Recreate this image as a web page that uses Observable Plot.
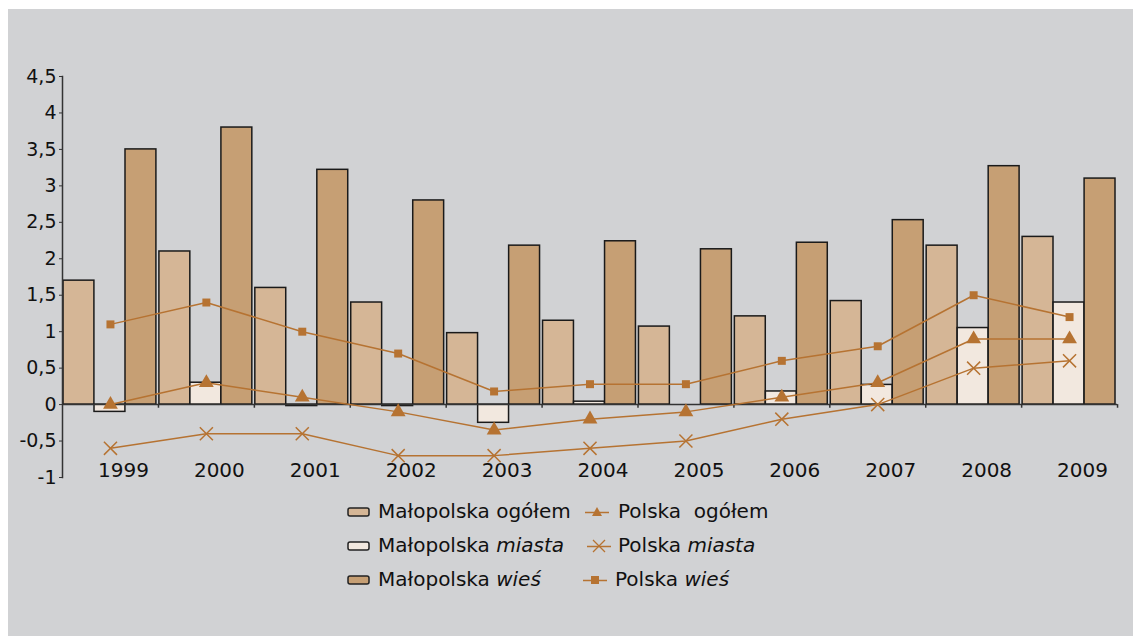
<!DOCTYPE html>
<html><head><meta charset="utf-8">
<script src="https://cdn.jsdelivr.net/npm/d3@7"></script>
<script src="https://cdn.jsdelivr.net/npm/@observablehq/plot@0.6"></script>
<style>
body{margin:0;background:#fff;width:1133px;height:636px;position:relative;overflow:hidden;font-family:"DejaVu Sans",sans-serif;}
#panel{position:absolute;left:8px;top:9px;width:1125px;height:627px;background:#d1d2d4;}
#chart{position:absolute;left:0;top:0;}
.lg{position:absolute;font-size:20px;color:#111;line-height:22px;white-space:pre;}
.sw{position:absolute;}
</style></head>
<body>
<div id="panel"></div>
<div id="chart"></div>
<div id="legend"></div>
<script>
const years = [1999,2000,2001,2002,2003,2004,2005,2006,2007,2008,2009];
const malopolskaOgolem = [1.7,2.1,1.6,1.4,0.98,1.15,1.07,1.21,1.42,2.18,2.3];
const malopolskaMiasta = [-0.1,0.3,-0.02,-0.02,-0.25,0.04,0,0.18,0.27,1.05,1.4];
const malopolskaWies = [3.5,3.8,3.22,2.8,2.18,2.24,2.13,2.22,2.53,3.27,3.1];
const polskaOgolem = [0.0,0.3,0.1,-0.1,-0.35,-0.2,-0.1,0.1,0.3,0.9,0.9];
const polskaMiasta = [-0.6,-0.4,-0.4,-0.7,-0.7,-0.6,-0.5,-0.2,0,0.5,0.6];
const polskaWies = [1.1,1.4,1.0,0.7,0.18,0.28,0.28,0.6,0.8,1.5,1.2];
const yTicks = [-1,-0.5,0,0.5,1,1.5,2,2.5,3,3.5,4,4.5];

const cOgolem = "#d5b696", cMiasta = "#f2e8df", cWies = "#c69f74", cLine = "#b67332";
const rows = (vals) => years.map((y,i)=>({year:y, v:vals[i]}));

const barStyle = {x:"year", y:"v", stroke:"#1a1a1a", strokeWidth:1.5};
const chart = Plot.plot({
  width:1133, height:500,
  marginLeft:62, marginRight:16, marginTop:76, marginBottom:23,
  style:{background:"transparent", fontFamily:"DejaVu Sans", fontSize:"19px", color:"#111"},
  x:{type:"band", domain:years, padding:0, round:false, label:null},
  y:{type:"linear", domain:[-1,4.5], label:null},
  marks:[
    Plot.barY(rows(malopolskaOgolem), {...barStyle, fill:cOgolem, insetLeft:1, insetRight:64}),
    Plot.barY(rows(malopolskaMiasta), {...barStyle, fill:cMiasta, insetLeft:32, insetRight:33}),
    Plot.barY(rows(malopolskaWies), {...barStyle, fill:cWies, insetLeft:63, insetRight:2}),
    Plot.ruleY([0], {stroke:"#333", strokeWidth:1.5}),
    Plot.ruleX(years, {x:d=>d, dx:48, y1:0, y2:-0.05, stroke:"#333", strokeWidth:1.5}),
    Plot.frame({anchor:"left", stroke:"#333", strokeWidth:1.5}),
    Plot.axisY({ticks:yTicks, tickSize:3, tickPadding:3, tickFormat:d=>String(d).replace(".",","), fontSize:19, stroke:"#333"}),
    Plot.axisX({tickSize:0, tickPadding:0, dy:-15, dx:13, fontSize:20, tickFormat:d=>String(d)}),
    Plot.lineY(rows(polskaWies), {x:"year", y:"v", stroke:cLine, strokeWidth:1.5}),
    Plot.lineY(rows(polskaOgolem), {x:"year", y:"v", stroke:cLine, strokeWidth:1.5}),
    Plot.lineY(rows(polskaMiasta), {x:"year", y:"v", stroke:cLine, strokeWidth:1.5}),
    Plot.dot(rows(polskaWies), {x:"year", y:"v", symbol:"square", r:4.5, fill:cLine}),
    Plot.dot(rows(polskaOgolem), {x:"year", y:"v", symbol:"triangle", r:5.5, fill:cLine}),
    Plot.dot(rows(polskaMiasta), {x:"year", y:"v", symbol:"times", r:6, stroke:cLine, strokeWidth:1.5})
  ]
});
document.getElementById("chart").appendChild(chart);

const legendItems = [
  {kind:"bar", fill:cOgolem, label:"Małopolska ogółem", it:"", sx:347, tx:378, cy:512},
  {kind:"bar", fill:cMiasta, label:"Małopolska ", it:"miasta", sx:347, tx:378, cy:546},
  {kind:"bar", fill:cWies, label:"Małopolska ", it:"wieś", sx:347, tx:378, cy:580},
  {kind:"tri", label:"Polska  ogółem", it:"", sx:585, tx:618, cy:512},
  {kind:"x", label:"Polska ", it:"miasta", sx:587, tx:618, cy:546},
  {kind:"sq", label:"Polska ", it:"wieś", sx:583, tx:615, cy:580}
];
const lg = document.getElementById("legend");
for (const d of legendItems) {
  let svg;
  if (d.kind==="bar") {
    svg = `<svg class="sw" style="left:${d.sx}px;top:${d.cy-6}px" width="24" height="12"><rect x="1" y="2" width="21" height="8" rx="2" fill="${d.fill}" stroke="#222" stroke-width="1.5"/></svg>`;
  } else {
    let sym = "";
    if (d.kind==="tri") sym = `<path d="M12,2 L17,11 L7,11 Z" fill="${cLine}"/>`;
    if (d.kind==="sq") sym = `<rect x="8" y="3" width="8" height="8" fill="${cLine}"/>`;
    if (d.kind==="x") sym = `<path d="M6,1 L18,13 M18,1 L6,13" stroke="${cLine}" stroke-width="1.3"/>`;
    svg = `<svg class="sw" style="left:${d.sx}px;top:${d.cy-7}px" width="24" height="14"><line x1="0" y1="7.5" x2="24" y2="7.5" stroke="${cLine}" stroke-width="1.5"/>${sym}</svg>`;
  }
  lg.insertAdjacentHTML("beforeend", svg +
    `<div class="lg" style="left:${d.tx}px;top:${d.cy-12}px">${d.label}${d.it?`<i>${d.it}</i>`:""}</div>`);
}
</script>
</body></html>
